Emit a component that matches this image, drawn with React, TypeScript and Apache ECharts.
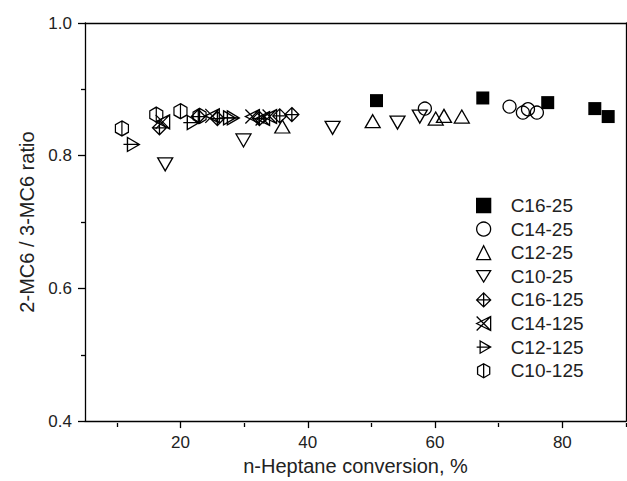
import React, { useEffect, useRef } from "react";
import * as echarts from "echarts";

const seriesNames = ["C16-25", "C14-25", "C12-25", "C10-25", "C16-125", "C14-125", "C12-125", "C10-125"];

const c16_25: number[][] = [[50.8, 0.883], [67.5, 0.887], [77.7, 0.880], [85.1, 0.871], [87.2, 0.859]];
const c14_25: number[][] = [[58.4, 0.871], [71.7, 0.874], [74.6, 0.870], [73.8, 0.865], [76.0, 0.865]];
const c12_25: number[][] = [[36.0, 0.844], [50.2, 0.852], [60.1, 0.856], [61.4, 0.860], [64.2, 0.859]];
const c10_25: number[][] = [[17.6, 0.787], [29.9, 0.823], [43.9, 0.842], [54.1, 0.850], [57.6, 0.859]];
const c16_125: number[][] = [[16.7, 0.842], [22.8, 0.859], [25.8, 0.856], [32.4, 0.856], [35.6, 0.860], [37.5, 0.862]];
const c14_125: number[][] = [[17.2, 0.851], [25.0, 0.860], [31.3, 0.859], [32.9, 0.856], [34.0, 0.859]];
const c12_125: number[][] = [[12.3, 0.817], [21.7, 0.850], [27.4, 0.857], [28.0, 0.857]];
const c10_125: number[][] = [[10.8, 0.841], [16.2, 0.862], [20.0, 0.867], [23.0, 0.860]];

const xMajorTicks = [20, 40, 60, 80];
const xMinorTicks = [10, 30, 50, 70, 90];

const FONT = "'Liberation Sans', Arial, sans-serif";

const symbols: { symbol: string; size: number | number[]; filled?: boolean }[] = [
  { symbol: "rect", size: 13, filled: true },
  { symbol: "circle", size: 13 },
  { symbol: "triangle", size: [15, 13] },
  { symbol: "path://M0,0L16,0L8,13Z", size: [15, 13] },
  { symbol: "path://M7,0L14,7L7,14L0,7Z M7,0L7,14 M0,7L14,7", size: 14 },
  { symbol: "path://M0,7L14,0L14,14Z M0,0L14,14 M0,14L14,0", size: 14 },
  { symbol: "path://M4,0L16,7L4,14Z M0,7L16,7", size: [16, 14] },
  { symbol: "path://M6.5,0L13,3.75L13,11.25L6.5,15L0,11.25L0,3.75Z M6.5,0L6.5,15", size: [13, 15] },
];

const allData = [c16_25, c14_25, c12_25, c10_25, c16_125, c14_125, c12_125, c10_125];

export default function App() {
  const ref = useRef<HTMLDivElement>(null);
  useEffect(() => {
    if (!ref.current) return;
    const chart = echarts.init(ref.current, null, { renderer: "svg" });
    const gridPos = { left: 85, top: 23, right: 1, bottom: 58 };
    const series: any[] = seriesNames.map((name, i) => ({
      name,
      type: "scatter",
      xAxisIndex: 0,
      yAxisIndex: 0,
      data: allData[i],
      symbol: symbols[i].symbol,
      symbolSize: symbols[i].size,
      itemStyle: {
        color: symbols[i].filled ? "#000" : "rgba(0,0,0,0)",
        borderColor: "#000",
        borderWidth: symbols[i].filled ? 0 : 1.3,
        opacity: 1,
      },
      emphasis: { disabled: true },
    }));
    chart.setOption({
      animation: false,
      backgroundColor: "#fff",
      textStyle: { fontFamily: FONT },
      grid: [
        { ...gridPos },
        { ...gridPos },
      ],
      legend: {
        orient: "vertical",
        left: 471,
        top: 191,
        itemWidth: 14,
        itemHeight: 14,
        itemGap: 4.6,
        data: seriesNames,
        itemStyle: { borderWidth: 1.3, opacity: 1 },
        textStyle: { fontSize: 19, color: "#222", fontFamily: FONT, padding: [0, 0, 0, 15] },
      },
      xAxis: [
        {
          type: "value",
          gridIndex: 0,
          min: 5,
          max: 90,
          position: "bottom",
          name: "n-Heptane conversion, %",
          nameLocation: "middle",
          nameGap: 34,
          nameTextStyle: { fontSize: 20, color: "#222", fontFamily: FONT, verticalAlign: "top" },
          axisLine: { lineStyle: { color: "#000", width: 1.3 } },
          axisTick: { customValues: xMajorTicks, length: 7, lineStyle: { color: "#000", width: 1.3 } },
          axisLabel: { customValues: xMajorTicks, fontSize: 17, color: "#222", margin: 13, fontFamily: FONT },
          splitLine: { show: false },
        },
        {
          type: "value",
          gridIndex: 0,
          min: 5,
          max: 90,
          position: "top",
          axisLine: { lineStyle: { color: "#000", width: 1.3 } },
          axisTick: { show: false },
          axisLabel: { show: false },
          splitLine: { show: false },
        },
        {
          type: "value",
          gridIndex: 1,
          min: 5,
          max: 90,
          position: "bottom",
          axisLine: { show: false },
          axisTick: { customValues: xMinorTicks, length: 4, lineStyle: { color: "#000", width: 1.3 } },
          axisLabel: { show: false },
          splitLine: { show: false },
        },
      ],
      yAxis: [
        {
          type: "value",
          gridIndex: 0,
          min: 0.4,
          max: 1.0,
          interval: 0.2,
          position: "left",
          name: "2-MC6 / 3-MC6 ratio",
          nameLocation: "middle",
          nameGap: 42,
          nameTextStyle: { fontSize: 20, color: "#222", fontFamily: FONT },
          axisLine: { show: true, lineStyle: { color: "#000", width: 1.3 } },
          axisTick: { show: true, length: 7, lineStyle: { color: "#000", width: 1.3 } },
          minorTick: { show: true, splitNumber: 2, length: 4, lineStyle: { color: "#000", width: 1.3 } },
          axisLabel: { fontSize: 17, color: "#222", margin: 13, fontFamily: FONT, formatter: (v: number) => v.toFixed(1) },
          splitLine: { show: false },
          minorSplitLine: { show: false },
        },
        {
          type: "value",
          gridIndex: 0,
          min: 0.4,
          max: 1.0,
          interval: 0.2,
          position: "right",
          axisLine: { show: true, lineStyle: { color: "#000", width: 1.3 } },
          axisTick: { show: false },
          axisLabel: { show: false },
          splitLine: { show: false },
        },
        {
          type: "value",
          gridIndex: 1,
          min: 0.4,
          max: 1.0,
          show: false,
        },
      ],
      series,
    });
    return () => chart.dispose();
  }, []);
  return (
    <div
      ref={ref}
      style={{ position: "fixed", left: 0, top: 0, width: 627, height: 481, background: "#fff" }}
    />
  );
}
